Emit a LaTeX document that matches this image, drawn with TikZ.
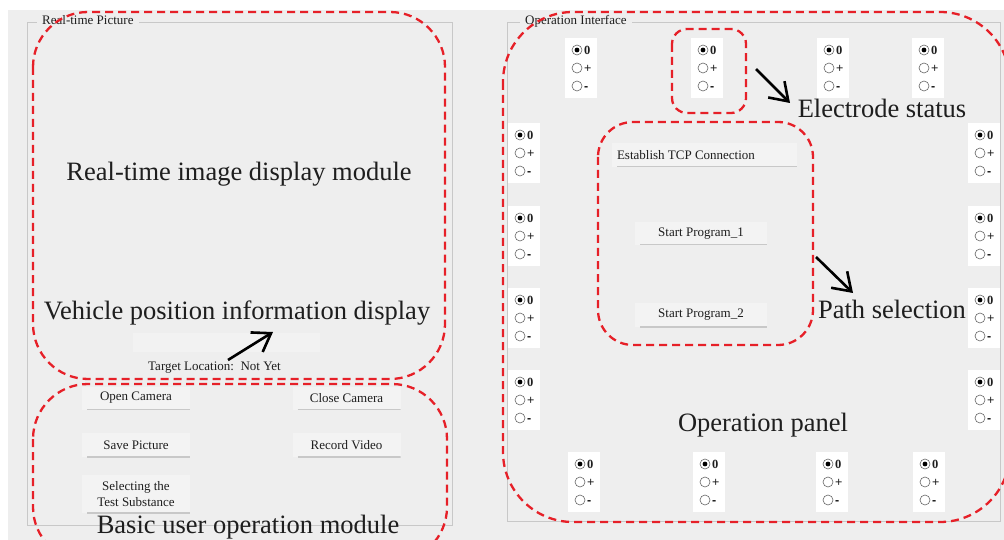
\documentclass[tikz,border=0pt]{standalone}
\usepackage{fontspec}
\setmainfont{Liberation Serif}
\setsansfont{Liberation Sans}
\usetikzlibrary{arrows.meta, positioning, calc}
\tikzset{>=stealth}

\definecolor{panelgray}{RGB}{238,238,238}
\definecolor{framegray}{RGB}{200,200,200}
\definecolor{btngray}{RGB}{243,243,243}
\definecolor{fieldgray}{RGB}{242,242,242}
\definecolor{markred}{RGB}{230,32,40}
\definecolor{inkgray}{RGB}{30,30,30}

\tikzset{
  module/.style={draw=markred, line width=2.3pt, dash pattern=on 8pt off 5pt},
  bigtext/.style={font=\fontsize{26.5}{30}\selectfont, text=inkgray, inner sep=0pt, anchor=base},
  smalltext/.style={font=\fontsize{13}{15}\selectfont, text=inkgray, inner sep=0pt},
  button/.style={smalltext, fill=btngray, align=center, minimum width=108pt, minimum height=23pt,
    path picture={\draw[framegray, line width=1.8pt] ([xshift=5pt]path picture bounding box.south west) -- (path picture bounding box.south east);}},
  elecbox/.style={fill=white, minimum width=32pt, minimum height=60pt, inner sep=0pt, anchor=north west},
  radio/.style={circle, draw=gray!80!black, fill=white, line width=0.6pt, minimum size=10pt, inner sep=0pt},
  radiotext/.style={font=\fontsize{12.5}{12.5}\selectfont, text=inkgray, inner sep=0pt, anchor=base west},
  pointer/.style={-{Straight Barb[length=17pt, width=23pt]}, line width=2.6pt, black}
}

% one electrode: white box with the three states 0 / + / -
\newcommand{\elec}[3]{%
  \node[elecbox] (#1) at (#2,#3) {};
  \foreach \k/\t in {0/{\rmfamily\bfseries 0},1/{\sffamily +},2/{\sffamily\bfseries -}}{
    \node[radio] (#1-\k) at ($(#1.north west)+(12,12+18*\k)$) {};
    \node[radiotext] (#1-t\k) at ($(#1.north west)+(19,16.5+18*\k)$) {\t};
  }
  \fill[black] (#1-0) circle (2.4pt);
}

\begin{document}
\begin{tikzpicture}[x=1pt, y=-1pt]
        \useasboundingbox (0,0) rectangle (1004,540);
        \clip (0,0) rectangle (1004,540);
        \fill[white] (0,0) rectangle (1004,540);
        \fill[panelgray] (8,10) rectangle (1004,540);

        % group boxes
        \draw[framegray, line width=1pt] (27,23) rectangle (452,525);
        \draw[framegray, line width=1pt] (507,23) rectangle (1000,521);
        \node[smalltext, fill=panelgray, inner xsep=5pt, inner ysep=4pt, anchor=base west] (pictitle) at (37,25) {Real-time Picture};
        \node[smalltext, fill=panelgray, inner xsep=5pt, inner ysep=4pt, anchor=base west] (optitle) at (520,25) {Operation Interface};

        % left side
        \node[bigtext] (imglbl) at (239,181) {Real-time image display module};
        \node[bigtext] (poslbl) at (237,319) {Vehicle position information display};
        \node[fill=fieldgray, minimum width=187pt, minimum height=19pt, inner sep=0pt] (tgtfield) at (226.5,342.5) {};
        \node[smalltext, anchor=base west] (tgtlbl) at (148,370) {Target Location:\ \ Not Yet};

        \node[button] (opencam) at (136,398) {Open Camera};
        \node[button] (closecam) at (346.5,398) {Close Camera};
        \node[button, minimum height=24pt] (savepic) at (136,445) {Save Picture};
        \node[button, minimum height=24pt] (recvid) at (346.5,445) {Record Video};
        \node[button, minimum height=38pt, font=\fontsize{13}{16}\selectfont] (subst) at (136,494) {Selecting the\\Test Substance};
        \node[bigtext] (userlbl) at (248,533) {Basic user operation module};

        % right side: electrodes round the edge
        \elec{et1}{565}{38}
        \elec{et2}{691}{38}
        \elec{et3}{817}{38}
        \elec{et4}{912}{38}
        \elec{el1}{508}{123}
        \elec{el2}{508}{206}
        \elec{el3}{508}{288}
        \elec{el4}{508}{370}
        \elec{er1}{968}{123}
        \elec{er2}{968}{206}
        \elec{er3}{968}{288}
        \elec{er4}{968}{370}
        \elec{eb1}{568}{452}
        \elec{eb2}{693}{452}
        \elec{eb3}{816}{452}
        \elec{eb4}{913}{452}

        \node[button, minimum width=185pt, minimum height=24pt, align=flush left, text width=175pt, inner xsep=5pt] (tcp) at (704.5,155) {Establish TCP Connection};
        \node[button, minimum width=132pt] (prog1) at (701,233.5) {Start Program\_1};
        \node[button, minimum width=132pt, minimum height=24pt] (prog2) at (701,315) {Start Program\_2};

        \node[bigtext] (elelbl) at (882,118) {Electrode status};
        \node[bigtext] (pathlbl) at (892,318) {Path selection};
        \node[bigtext] (panlbl) at (763,431) {Operation panel};

        % red module outlines
        \draw[module, rounded corners=55pt] (33,12) rectangle (445,379);
        \draw[module, rounded corners=55pt] (33,384) rectangle (447,562);
        \draw[module, rounded corners=70pt] (503,12) rectangle (1010,522);
        \draw[module, rounded corners=15pt] (672,29) rectangle (746,113);
        \draw[module, rounded corners=35pt] (598,122) rectangle (813,345);

        % pointers
        \coordinate (tgtfrom) at (228,360);
        \coordinate (tgtto) at (273,332);
        \coordinate (elefrom) at (756,69);
        \coordinate (eleto) at (790,103);
        \coordinate (pathfrom) at (816,257);
        \coordinate (pathto) at (853,293);
        \draw[pointer] (tgtfrom) -- (tgtto);
        \draw[pointer] (elefrom) -- (eleto);
        \draw[pointer] (pathfrom) -- (pathto);
\end{tikzpicture}
\end{document}
